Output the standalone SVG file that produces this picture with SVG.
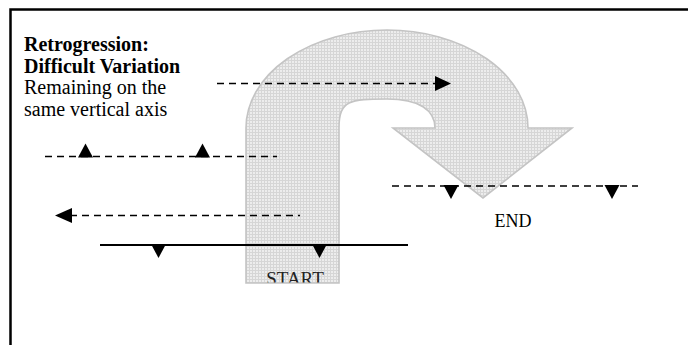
<svg xmlns="http://www.w3.org/2000/svg" width="688" height="345" viewBox="0 0 688 345">
  <defs>
    <style>
      .frame { fill: none; stroke: #000; stroke-width: 2.5; }
      .title { font-family: "Liberation Serif", "Times New Roman", serif; font-size: 20px; fill: #000; }
      .bold { font-weight: bold; }
      .label { font-family: "Liberation Serif", "Times New Roman", serif; font-size: 18px; fill: #000; }
      .shape { fill: url(#grid); stroke: #c4c4c4; stroke-width: 1.6; }
      .dash { fill: none; stroke: #000; stroke-width: 1.6; stroke-dasharray: 7 5; }
      .solid { fill: none; stroke: #000; stroke-width: 1.8; }
      .tri { fill: #000; }
    </style>
    <pattern id="grid" width="3" height="3" patternUnits="userSpaceOnUse">
      <rect width="3" height="3" fill="#ededed"/>
      <path d="M0,0.5 H3 M0.5,0 V3" stroke="#d6d6d6" stroke-width="1"/>
    </pattern>
    <path id="up" d="M-7.5,1 L0,-13 L7.5,1 Z"/>
    <path id="down" d="M-7.5,-1 L0,13 L7.5,-1 Z"/>
    <path id="headR" d="M-16,-7.5 L0,0 L-16,7.5 Z"/>
    <path id="headL" d="M17,-7.5 L0,0 L17,7.5 Z"/>
    <clipPath id="uclip">
      <path d="M246,282.5 L246,128 A141,98 0 0 1 528,128 L572,128 L483,198 L393,128 L435,128 C435,110 419,99 387,99 C350,99 339,100 339,128 L339,282.5 Z"/>
    </clipPath>
  </defs>

  <path class="frame" d="M10.5,345 L10.5,9.5 L688,9.5"/>

  <g id="uturn">
    <path class="shape" d="M246,283 L246,128 A141,98 0 0 1 528,128 L572,128 L483,198 L393,128 L435,128 C435,110 419,99 387,99 C350,99 339,100 339,128 L339,283 Z"/>
  </g>

  <g id="title">
    <text class="title bold" x="24" y="51">Retrogression:</text>
    <text class="title bold" x="24" y="72.5">Difficult Variation</text>
    <text class="title" x="24" y="94">Remaining on the</text>
    <text class="title" x="24" y="115.5">same vertical axis</text>
  </g>

  <g id="start">
    <text class="label" x="295" y="284.5" text-anchor="middle" clip-path="url(#uclip)" style="font-size:19px;fill:#222">START</text>
  </g>

  <g id="end">
    <text class="label" x="513" y="227" text-anchor="middle">END</text>
  </g>

  <g id="connectors">
    <line class="dash" x1="217" y1="83.5" x2="436" y2="83.5"/>
    <use href="#headR" class="tri" x="451" y="83.5"/>

    <line class="dash" x1="45" y1="156.5" x2="277" y2="156.5"/>
    <use href="#up" class="tri" x="85.5" y="156.5"/>
    <use href="#up" class="tri" x="202.5" y="156.5"/>

    <line class="dash" x1="70" y1="215.5" x2="300" y2="215.5"/>
    <use href="#headL" class="tri" x="55" y="215.5"/>

    <line class="solid" x1="100" y1="245" x2="408" y2="245"/>
    <use href="#down" class="tri" x="158.5" y="245"/>
    <use href="#down" class="tri" x="319.5" y="245"/>

    <line class="dash" x1="392" y1="186" x2="638" y2="186"/>
    <use href="#down" class="tri" x="451" y="186"/>
    <use href="#down" class="tri" x="612" y="186"/>
  </g>
</svg>
